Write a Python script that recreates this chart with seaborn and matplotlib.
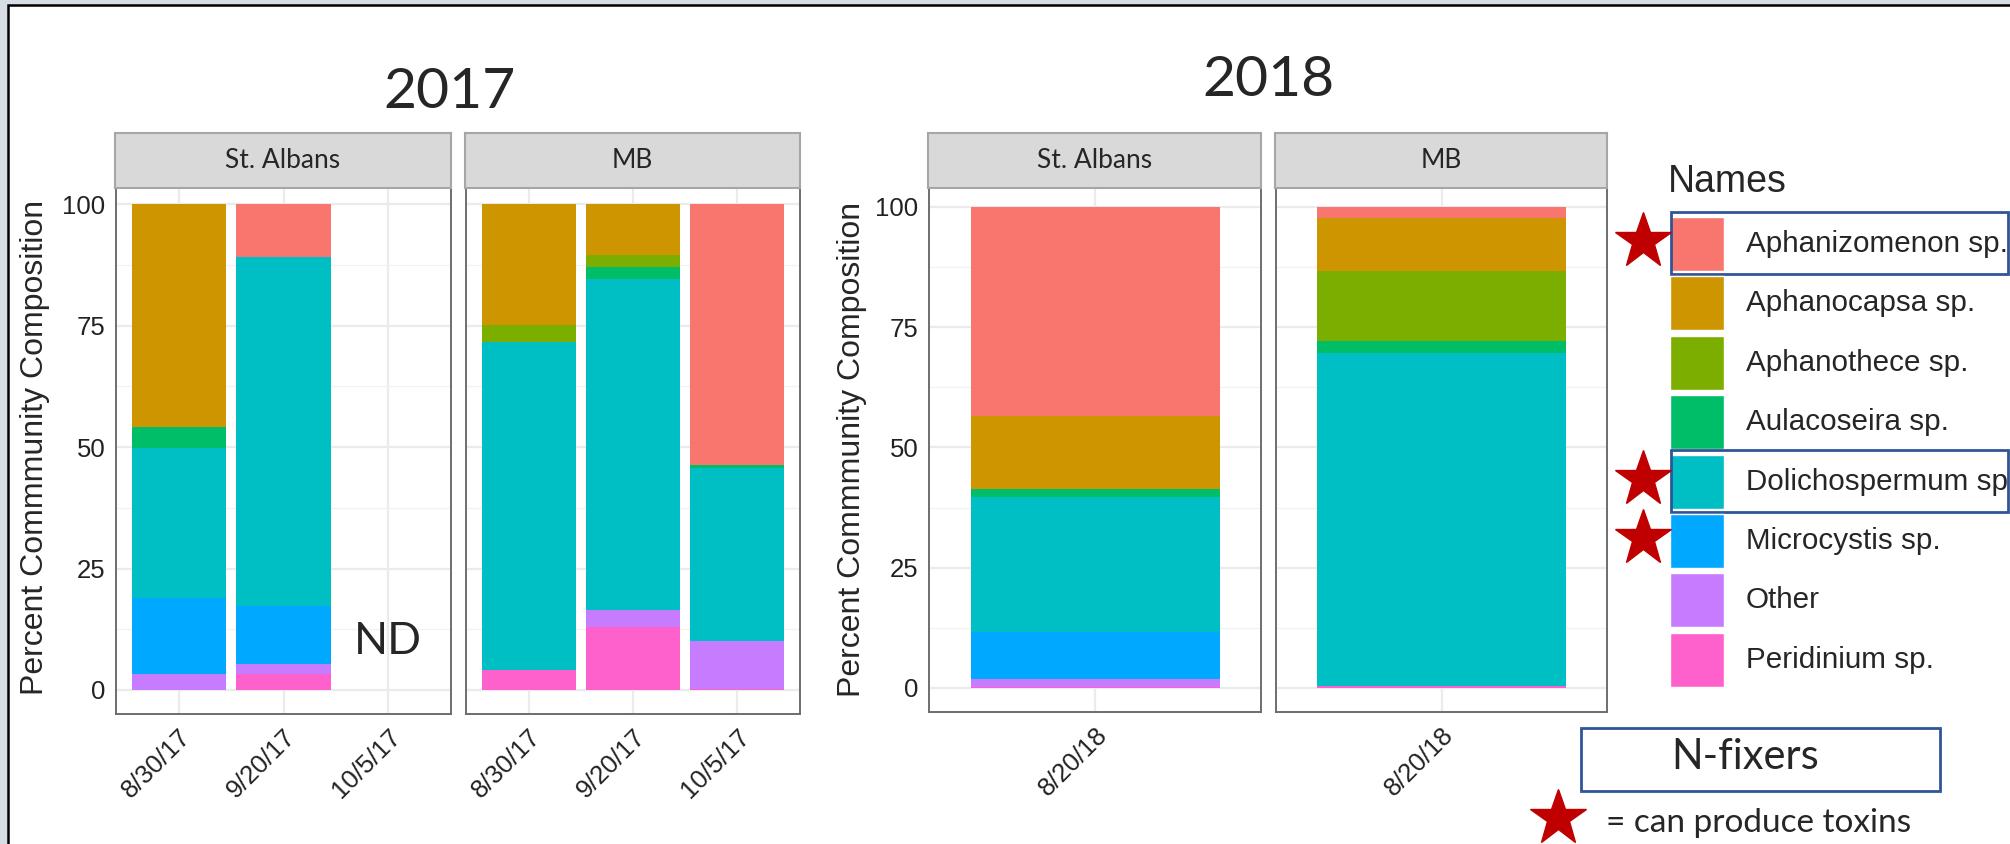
import pandas as pd
import matplotlib.pyplot as plt
from matplotlib.patches import Rectangle
import seaborn as sns

# species (ggplot default hue palette, 8 levels)
names = ["Aphanizomenon sp.", "Aphanocapsa sp.", "Aphanothece sp.", "Aulacoseira sp.",
         "Dolichospermum sp.", "Microcystis sp.", "Other", "Peridinium sp."]
colors = ["#F8766D", "#CD9600", "#7CAE00", "#00BE67",
          "#00BFC4", "#00A9FF", "#C77CFF", "#FF61CC"]
n_fixers = ["Aphanizomenon sp.", "Dolichospermum sp."]
toxic = ["Aphanizomenon sp.", "Dolichospermum sp.", "Microcystis sp."]

dates_2017 = ["8/30/17", "9/20/17", "10/5/17"]
dates_2018 = ["8/20/18"]

# percent community composition, values in the order of `names`
sa_2017_0830 = [0, 45.8, 0, 4.4, 30.8, 15.7, 3.3, 0]
sa_2017_0920 = [10.9, 0, 0, 0, 71.8, 11.9, 2.1, 3.3]
sa_2017_1005 = [0, 0, 0, 0, 0, 0, 0, 0]          # ND, no sample
mb_2017_0830 = [0, 24.9, 3.5, 0, 67.4, 0, 0, 4.2]
mb_2017_0920 = [0, 10.4, 2.6, 2.4, 68.1, 0, 3.6, 12.9]
mb_2017_1005 = [53.8, 0, 0, 0.6, 35.6, 0, 9.8, 0.2]
sa_2018_0820 = [43.4, 15.2, 0, 1.6, 28.1, 9.8, 1.6, 0.3]
mb_2018_0820 = [2.3, 11.0, 14.6, 2.5, 69.1, 0, 0, 0.5]

W, H = 2010, 844
GG_FONT = ["Liberation Sans", "DejaVu Sans"]
SLIDE_FONT = ["Lato", "DejaVu Sans"]


def px(x0, y0, x1, y1):
    # pixel box (top-left origin) -> figure fraction rect
    return [x0 / W, 1 - y1 / H, (x1 - x0) / W, (y1 - y0) / H]


def long_df(dates, samples):
    rows = []
    for d, vals in zip(dates, samples):
        for nm, v in zip(names, vals):
            rows.append({"Date": d, "Names": nm, "Pct": v})
    df = pd.DataFrame(rows)
    df["Date"] = pd.Categorical(df["Date"], categories=dates)
    return df


def panel(fig, box, strip_label, dates, samples, ylim, show_y):
    x0, y0, x1, y1 = box
    ax = fig.add_axes(px(x0, y0, x1, y1))
    df = long_df(dates, samples)
    sns.histplot(data=df, x="Date", hue="Names", weights="Pct", hue_order=names,
                 palette=colors, multiple="stack", discrete=True, shrink=0.9,
                 alpha=1, linewidth=0, legend=False, ax=ax)
    ax.set_xlim(-0.6, len(dates) - 0.4)
    ax.set_ylim(*ylim)
    ax.set_xticks(range(len(dates)))
    ax.set_xticklabels(dates, rotation=45, ha="right", va="top",
                       rotation_mode="anchor", family=GG_FONT, fontsize=18.5, color="#222222")
    ax.set_yticks([0, 25, 50, 75, 100])
    ax.set_yticks([12.5, 37.5, 62.5, 87.5], minor=True)
    ax.set_xlabel("")
    ax.set_axisbelow(True)
    ax.grid(which="major", color="#ebebeb", linewidth=1.6)
    ax.grid(which="minor", axis="y", color="#f2f2f2", linewidth=0.9)
    ax.tick_params(which="major", length=5, width=1.4, color="#333333", pad=2.5)
    ax.tick_params(which="minor", length=0)
    for s in ax.spines.values():
        s.set_color("#6e6e6e")
        s.set_linewidth(1.4)
    if show_y:
        ax.set_yticklabels(["0", "25", "50", "75", "100"], family=GG_FONT,
                           fontsize=18.5, color="#222222")
        ax.set_ylabel("Percent Commmunity Composition", family=GG_FONT, fontsize=23)
    else:
        ax.set_ylabel("")
        ax.tick_params(axis="y", left=False, labelleft=False)

    st = fig.add_axes(px(x0 - 1, 133, x1, y0))
    st.set_facecolor("#d9d9d9")
    st.set_xticks([])
    st.set_yticks([])
    for s in st.spines.values():
        s.set_color("#a6a6a6")
        s.set_linewidth(1.5)
    st.text(0.5, 0.5, strip_label, ha="center", va="center", family=SLIDE_FONT,
            fontsize=19, transform=st.transAxes)
    return ax


sns.set_style("white")
fig = plt.figure(figsize=(W / 100, H / 100), dpi=100, facecolor="#d7dde4")

# page layer in pixel coordinates (frame, titles, legend, notes)
ov = fig.add_axes([0, 0, 1, 1])
ov.set_xlim(0, W)
ov.set_ylim(H, 0)
ov.axis("off")
ov.add_patch(Rectangle((8, 5), W, H, facecolor="white", edgecolor="black", linewidth=1.8))

ylim_17 = (-4.94, 103.3)
ylim_18 = (-4.99, 103.95)

a1 = panel(fig, (116, 188, 451, 714), "St. Albans", dates_2017,
           [sa_2017_0830, sa_2017_0920, sa_2017_1005], ylim_17, True)
a1.yaxis.label.set(ha="center", va="center")
a1.yaxis.set_label_coords(-0.242, 0.506)
a1.text(dates_2017.index("10/5/17"), 10, "ND", ha="center", va="center",
        family=SLIDE_FONT, fontsize=32)
panel(fig, (466, 188, 800, 714), "MB", dates_2017,
      [mb_2017_0830, mb_2017_0920, mb_2017_1005], ylim_17, False)

a3 = panel(fig, (929, 188, 1261, 712), "St. Albans", dates_2018, [sa_2018_0820], ylim_18, True)
a3.yaxis.label.set(ha="center", va="center")
a3.yaxis.set_label_coords(-0.232, 0.502)
panel(fig, (1276, 188, 1607, 712), "MB", dates_2018, [mb_2018_0820], ylim_18, False)

ov.text(450, 108, "2017", ha="center", va="baseline", family=SLIDE_FONT, fontsize=41)
ov.text(1268, 96, "2018", ha="center", va="baseline", family=SLIDE_FONT, fontsize=41)

# legend
ov.text(1668, 192, "Names", ha="left", va="baseline", family=GG_FONT, fontsize=27)
for i, (nm, c) in enumerate(zip(names, colors)):
    yc = 244 + 59.4 * i
    ov.add_patch(Rectangle((1670, yc - 27), 54, 54, facecolor=c, edgecolor="white", linewidth=1))
    ov.text(1746, yc, nm, ha="left", va="center", family=GG_FONT, fontsize=21.3)
    if nm in n_fixers:
        ov.add_patch(Rectangle((1671, yc - 32), 337, 62, facecolor="none",
                               edgecolor="#2f5597", linewidth=2))
    if nm in toxic:
        ov.plot(1643, yc - 3, marker="*", markersize=42, color="#c00000", linestyle="")

ov.add_patch(Rectangle((1581, 728), 359, 63, facecolor="none", edgecolor="#2f5597", linewidth=2))
ov.text(1745, 757, "N-fixers", ha="center", va="center", family=SLIDE_FONT, fontsize=30)
ov.plot(1558, 818, marker="*", markersize=42, color="#c00000", linestyle="")
ov.text(1606, 832, "= can produce toxins", ha="left", va="baseline",
        family=SLIDE_FONT, fontsize=24)

fig.savefig("out.png", dpi=100, facecolor=fig.get_facecolor())
